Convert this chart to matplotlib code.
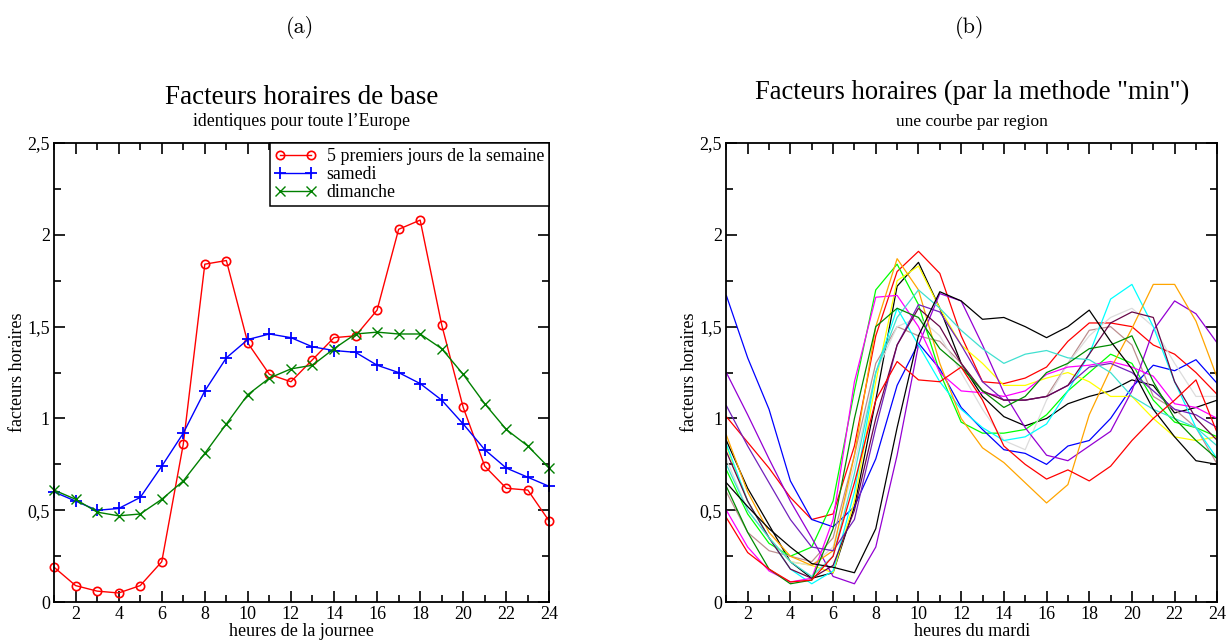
#!/usr/bin/env python3
"""Hourly load factors: base profiles (a) and per-region curves (b)."""
import matplotlib
matplotlib.use("Agg")
import matplotlib.pyplot as plt
from matplotlib.ticker import FuncFormatter, MultipleLocator

hours = list(range(1, 25))

# (a) base factors, identical for all of Europe
semaine = [0.19, 0.09, 0.06, 0.05, 0.09, 0.22, 0.86, 1.84, 1.86, 1.41, 1.24, 1.20,
           1.32, 1.44, 1.45, 1.59, 2.03, 2.08, 1.51, 1.06, 0.74, 0.62, 0.61, 0.44]
samedi = [0.60, 0.55, 0.50, 0.51, 0.57, 0.74, 0.92, 1.15, 1.33, 1.43, 1.46, 1.44,
          1.39, 1.37, 1.36, 1.29, 1.25, 1.19, 1.10, 0.97, 0.83, 0.73, 0.68, 0.63]
dimanche = [0.61, 0.56, 0.49, 0.47, 0.48, 0.56, 0.66, 0.81, 0.97, 1.13, 1.22, 1.27,
            1.29, 1.38, 1.46, 1.47, 1.46, 1.46, 1.38, 1.24, 1.08, 0.94, 0.85, 0.73]
labels_a = ["5 premiers jours de la semaine", "samedi", "dimanche"]

# (b) one curve per region ("min" method), tuesday
regions = [
    [0.88, 0.62, 0.42, 0.22, 0.13, 0.16, 0.52, 1.10, 1.72, 1.85, 1.60, 1.30,
     1.12, 1.01, 0.96, 1.00, 1.08, 1.12, 1.15, 1.21, 1.18, 1.03, 1.06, 1.10],
    [1.01, 0.87, 0.73, 0.57, 0.45, 0.48, 0.85, 1.45, 1.80, 1.91, 1.79, 1.45,
     1.20, 1.19, 1.22, 1.28, 1.42, 1.52, 1.52, 1.50, 1.40, 1.35, 1.25, 1.13],
    [0.72, 0.48, 0.32, 0.25, 0.30, 0.55, 1.15, 1.70, 1.84, 1.62, 1.25, 0.98,
     0.92, 0.92, 0.94, 1.02, 1.15, 1.25, 1.35, 1.30, 1.10, 0.98, 0.95, 0.90],
    [1.67, 1.33, 1.05, 0.66, 0.45, 0.41, 0.52, 0.78, 1.18, 1.41, 1.27, 1.06,
     0.94, 0.83, 0.81, 0.75, 0.85, 0.88, 1.00, 1.17, 1.29, 1.26, 1.32, 1.19],
    [0.85, 0.55, 0.35, 0.22, 0.20, 0.16, 0.55, 1.20, 1.75, 1.83, 1.60, 1.40,
     1.30, 1.18, 1.18, 1.22, 1.25, 1.20, 1.12, 1.12, 1.00, 0.90, 0.88, 0.90],
    [0.60, 0.38, 0.28, 0.25, 0.22, 0.35, 0.80, 1.30, 1.50, 1.45, 1.42, 1.30,
     1.15, 1.10, 1.10, 1.12, 1.30, 1.48, 1.50, 1.40, 1.12, 1.05, 0.95, 0.75],
    [0.78, 0.50, 0.35, 0.22, 0.20, 0.30, 0.75, 1.25, 1.50, 1.55, 1.45, 1.25,
     1.05, 0.88, 0.83, 1.10, 1.30, 1.45, 1.55, 1.60, 1.50, 1.30, 1.12, 1.12],
    [1.25, 1.02, 0.78, 0.55, 0.35, 0.14, 0.10, 0.30, 0.80, 1.40, 1.68, 1.64,
     1.40, 1.14, 0.95, 0.80, 0.77, 0.85, 0.93, 1.15, 1.48, 1.64, 1.57, 1.41],
    [0.86, 0.55, 0.35, 0.18, 0.10, 0.17, 0.60, 1.25, 1.60, 1.40, 1.20, 1.05,
     0.95, 0.88, 0.90, 0.97, 1.15, 1.35, 1.65, 1.73, 1.50, 1.20, 0.95, 0.78],
    [0.50, 0.30, 0.17, 0.11, 0.13, 0.45, 1.20, 1.66, 1.67, 1.50, 1.25, 1.15,
     1.14, 1.12, 1.15, 1.24, 1.28, 1.29, 1.31, 1.28, 1.23, 1.08, 1.06, 1.00],
    [0.91, 0.60, 0.38, 0.25, 0.20, 0.28, 0.80, 1.50, 1.87, 1.70, 1.30, 1.00,
     0.84, 0.76, 0.65, 0.54, 0.64, 1.02, 1.27, 1.49, 1.73, 1.73, 1.53, 1.22],
    [1.07, 0.85, 0.65, 0.45, 0.30, 0.28, 0.45, 0.95, 1.40, 1.62, 1.58, 1.40,
     1.20, 1.10, 1.10, 1.12, 1.18, 1.28, 1.30, 1.25, 1.15, 1.05, 1.02, 0.95],
    [0.82, 0.55, 0.35, 0.18, 0.13, 0.20, 0.50, 1.00, 1.40, 1.60, 1.50, 1.30,
     1.15, 1.10, 1.10, 1.12, 1.18, 1.35, 1.52, 1.58, 1.55, 1.20, 1.00, 0.88],
    [0.75, 0.50, 0.35, 0.22, 0.14, 0.25, 0.70, 1.25, 1.55, 1.70, 1.60, 1.48,
     1.38, 1.30, 1.35, 1.37, 1.33, 1.32, 1.25, 1.12, 1.05, 1.00, 0.95, 0.85],
    [0.63, 0.38, 0.18, 0.10, 0.12, 0.40, 1.00, 1.50, 1.60, 1.55, 1.38, 1.28,
     1.15, 1.06, 1.12, 1.25, 1.30, 1.38, 1.40, 1.45, 1.20, 1.00, 0.88, 0.78],
    [0.65, 0.52, 0.40, 0.30, 0.21, 0.19, 0.16, 0.40, 0.95, 1.45, 1.69, 1.64,
     1.54, 1.55, 1.50, 1.44, 1.50, 1.59, 1.42, 1.27, 1.05, 0.90, 0.77, 0.75],
    [0.46, 0.27, 0.18, 0.11, 0.12, 0.25, 0.65, 1.10, 1.31, 1.21, 1.20, 1.28,
     1.10, 0.85, 0.75, 0.67, 0.72, 0.66, 0.74, 0.88, 1.00, 1.10, 1.21, 0.92],
]

# xmgrace default palette, cycled over the regions
grace_colors = ["#000000", "#ff0000", "#00ff00", "#0000ff", "#ffff00", "#bc8f8f",
                "#dcdcdc", "#9400d3", "#00ffff", "#ff00ff", "#ffa500", "#7221bc",
                "#670748", "#40e0d0", "#008b00"]

plt.rcParams["font.family"] = ["Liberation Serif", "DejaVu Serif"]


def comma(v, _pos):
    return f"{v:g}".replace(".", ",")


def style_axes(ax, xlabel):
    ax.set_xlim(1, 24)
    ax.set_ylim(0, 2.5)
    ax.xaxis.set_major_locator(MultipleLocator(2))
    ax.xaxis.set_minor_locator(MultipleLocator(1))
    ax.yaxis.set_major_locator(MultipleLocator(0.5))
    ax.yaxis.set_minor_locator(MultipleLocator(0.25))
    ax.yaxis.set_major_formatter(FuncFormatter(comma))
    ax.tick_params(which="both", direction="in", top=True, right=True, width=1.2)
    ax.tick_params(which="major", length=8, labelsize=13, pad=3)
    ax.tick_params(which="minor", length=5)
    for spine in ax.spines.values():
        spine.set_linewidth(1.3)
    ax.set_xlabel(xlabel, fontsize=13, labelpad=0)
    ax.set_ylabel("facteurs horaires", fontsize=13, labelpad=1)


fig = plt.figure(figsize=(12.29, 6.44), dpi=100)
ax_a = fig.add_axes([0.044, 0.065, 0.403, 0.713])
ax_b = fig.add_axes([0.591, 0.065, 0.3995, 0.713])

ax_a.plot(hours, semaine, color="red", lw=1, marker="o", ms=6, mfc="none",
          mew=1.2, clip_on=False, label=labels_a[0])
ax_a.plot(hours, samedi, color="blue", lw=1, marker="+", ms=9, mew=1.3,
          clip_on=False, label=labels_a[1])
ax_a.plot(hours, dimanche, color="green", lw=1, marker="x", ms=6.5, mew=1,
          clip_on=False, label=labels_a[2])
style_axes(ax_a, "heures de la journee")
leg = ax_a.legend(loc="upper right", borderaxespad=0, fancybox=False, framealpha=1,
                  edgecolor="black", fontsize=12.8, numpoints=2, handlelength=2.3,
                  handletextpad=0.6, labelspacing=0.05, borderpad=0.3)
leg.get_frame().set_linewidth(1.1)

for i, vals in enumerate(regions):
    ax_b.plot(hours, vals, color=grace_colors[i % len(grace_colors)], lw=0.9)
style_axes(ax_b, "heures du mardi")

cx_a = 0.044 + 0.403 / 2
cx_b = 0.591 + 0.3995 / 2
fig.text(cx_a, 0.849, "Facteurs horaires de base", ha="center", va="center", fontsize=19.5)
fig.text(cx_a, 0.811, "identiques pour toute l\u2019Europe", ha="center", va="center", fontsize=12.8)
fig.text(cx_b, 0.856, "Facteurs horaires (par la methode \"min\")", ha="center", va="center", fontsize=19.2)
fig.text(cx_b, 0.811, "une courbe par region", ha="center", va="center", fontsize=12.5)
fig.text(0.244, 0.957, "(a)", ha="center", va="center", fontsize=16, family="cmr10")
fig.text(0.789, 0.957, "(b)", ha="center", va="center", fontsize=16, family="cmr10")

fig.savefig("out.png", dpi=100)
